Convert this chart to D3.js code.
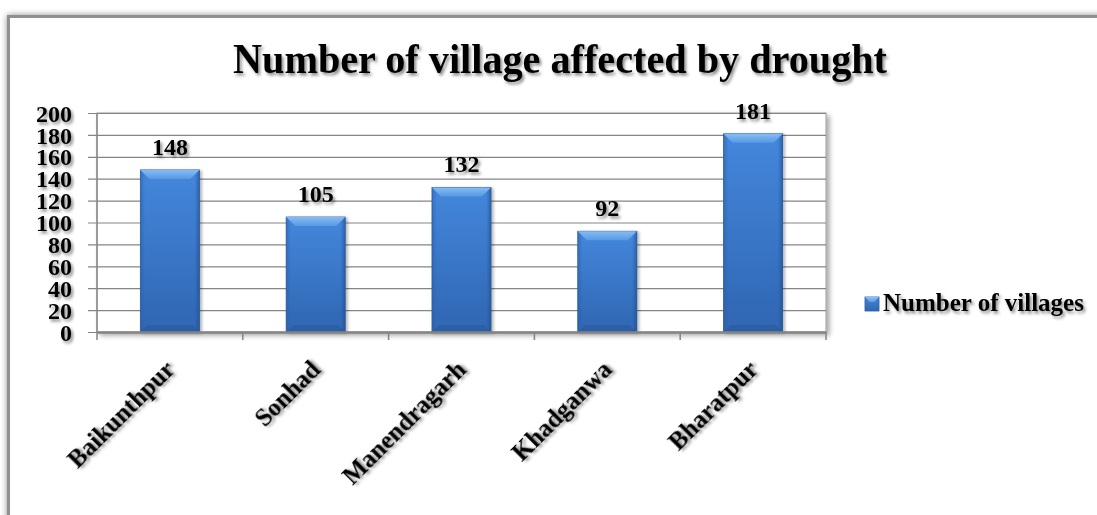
<!DOCTYPE html>
<html>
<head>
<meta charset="utf-8">
<script src="https://cdn.jsdelivr.net/npm/d3@7"></script>
<style>
  html, body { margin: 0; padding: 0; background: #ffffff; }
  svg { display: block; }
  text { font-family: "Liberation Serif", "Times New Roman", serif; font-weight: bold; fill: #000; }
</style>
</head>
<body>
<svg id="chart" width="1097" height="515"></svg>
<script>
const categories = ["Baikunthpur", "Sonhad", "Manendragarh", "Khadganwa", "Bharatpur"];
const values = [148, 105, 132, 92, 181];
const yTicks = [0, 20, 40, 60, 80, 100, 120, 140, 160, 180, 200];
const title = "Number of village affected by drought";
const seriesName = "Number of villages";

const svg = d3.select("#chart");
const W = 1097, H = 515;
const plot = { left: 97, right: 826, top: 113, bottom: 332 };

const defs = svg.append("defs");
const ts = defs.append("filter").attr("id", "tshadow").attr("x", "-10%").attr("y", "-20%").attr("width", "130%").attr("height", "160%");
ts.append("feDropShadow").attr("dx", 2).attr("dy", 2.5).attr("stdDeviation", 1.6).attr("flood-color", "#000").attr("flood-opacity", 0.45);
const fs = defs.append("filter").attr("id", "fshadow").attr("x", "-5%").attr("y", "-5%").attr("width", "110%").attr("height", "110%");
fs.append("feDropShadow").attr("dx", 0).attr("dy", 0).attr("stdDeviation", 3).attr("flood-color", "#000").attr("flood-opacity", 0.45);
const ps = defs.append("filter").attr("id", "pshadow").attr("x", "-5%").attr("y", "-5%").attr("width", "110%").attr("height", "115%");
ps.append("feDropShadow").attr("dx", 3).attr("dy", 3).attr("stdDeviation", 2.5).attr("flood-color", "#000").attr("flood-opacity", 0.35);
const bs = defs.append("filter").attr("id", "bshadow").attr("x", "-20%").attr("y", "-5%").attr("width", "140%").attr("height", "110%");
bs.append("feDropShadow").attr("dx", 2).attr("dy", 1).attr("stdDeviation", 1.5).attr("flood-color", "#000").attr("flood-opacity", 0.3);

const gBody = defs.append("linearGradient").attr("id", "gBody").attr("x1", 0).attr("y1", 0).attr("x2", 0).attr("y2", 1);
gBody.append("stop").attr("offset", "0%").attr("stop-color", "#4487dc");
gBody.append("stop").attr("offset", "100%").attr("stop-color", "#2f66b2");
const gSide = defs.append("linearGradient").attr("id", "gSide").attr("x1", 0).attr("y1", 0).attr("x2", 1).attr("y2", 0);
gSide.append("stop").attr("offset", "0%").attr("stop-color", "#2a5ea8").attr("stop-opacity", 0.55);
gSide.append("stop").attr("offset", "8%").attr("stop-color", "#2a5ea8").attr("stop-opacity", 0);
gSide.append("stop").attr("offset", "92%").attr("stop-color", "#1f4c8c").attr("stop-opacity", 0);
gSide.append("stop").attr("offset", "100%").attr("stop-color", "#1f4c8c").attr("stop-opacity", 0.6);
const gTop = defs.append("linearGradient").attr("id", "gTop").attr("x1", 0).attr("y1", 0).attr("x2", 0).attr("y2", 1);
gTop.append("stop").attr("offset", "0%").attr("stop-color", "#8cc2f5");
gTop.append("stop").attr("offset", "100%").attr("stop-color", "#5a9be6");

// outer frame
svg.append("rect").attr("x", 0).attr("y", 0).attr("width", W).attr("height", H).attr("fill", "#ffffff");
svg.append("rect").attr("x", 8.5).attr("y", 16.5).attr("width", 1200).attr("height", 700)
  .attr("fill", "#ffffff").attr("stroke", "#8f8f8f").attr("stroke-width", 3).attr("filter", "url(#fshadow)");

// scales
const x = d3.scaleBand().domain(categories).range([plot.left, plot.right]).paddingInner(0.595).paddingOuter(0.2975);
const y = d3.scaleLinear().domain([0, 200]).range([plot.bottom, plot.top]);

// plot area
svg.append("rect").attr("x", plot.left).attr("y", plot.top).attr("width", plot.right - plot.left).attr("height", plot.bottom - plot.top)
  .attr("fill", "#ffffff").attr("stroke", "#9a9a9a").attr("stroke-width", 1).attr("filter", "url(#pshadow)");

// gridlines + y axis
const yAxis = d3.axisLeft(y).tickValues(yTicks).tickSize(-(plot.right - plot.left) - 9).tickPadding(0).tickFormat(d3.format("d"));
const gy = svg.append("g").attr("transform", `translate(${plot.left + 0},0)`);
gy.call(yAxis);
gy.select(".domain").remove();
gy.selectAll(".tick line").attr("stroke", "#858585").attr("stroke-width", 1.2).attr("x1", -9).attr("x2", plot.right - plot.left);
gy.selectAll(".tick text").attr("x", -25).attr("dy", "0.34em").style("font-size", "24px")
  .style("font-family", "'Liberation Serif', 'Times New Roman', serif").style("font-weight", "bold")
  .attr("fill", "#000").attr("filter", "url(#tshadow)");
svg.append("line").attr("x1", plot.left).attr("x2", plot.left).attr("y1", plot.top).attr("y2", plot.bottom).attr("stroke", "#8a8a8a").attr("stroke-width", 1.5);

// bars
const bars = svg.append("g").selectAll("g.bar").data(values).join("g").attr("class", "bar");
bars.append("rect")
  .attr("x", (d, i) => x(categories[i])).attr("y", d => y(d))
  .attr("width", x.bandwidth()).attr("height", d => y(0) - y(d))
  .attr("fill", "url(#gBody)").attr("stroke", "#2c5c9e").attr("stroke-width", 0.8).attr("filter", "url(#bshadow)");
bars.append("rect")
  .attr("x", (d, i) => x(categories[i])).attr("y", d => y(d))
  .attr("width", x.bandwidth()).attr("height", d => y(0) - y(d))
  .attr("fill", "url(#gSide)");
bars.append("path")
  .attr("d", (d, i) => {
    const x0 = x(categories[i]), x1 = x0 + x.bandwidth(), t = y(d), b = 9;
    return `M${x0},${t} L${x1},${t} L${x1 - b},${t + b} L${x0 + b},${t + b} Z`;
  })
  .attr("fill", "url(#gTop)").attr("opacity", 0.9);
bars.append("path")
  .attr("d", (d, i) => {
    const x0 = x(categories[i]), x1 = x0 + x.bandwidth(), b = 7, bot = y(0);
    return `M${x0},${bot} L${x1},${bot} L${x1 - b},${bot - b} L${x0 + b},${bot - b} Z`;
  })
  .attr("fill", "#244f8e").attr("opacity", 0.35);

// x axis
const xAxis = d3.axisBottom(x).tickSize(0).tickFormat("");
const gx = svg.append("g").attr("transform", `translate(0,${plot.bottom})`);
gx.call(xAxis);
gx.select(".domain").attr("stroke", "#858585").attr("stroke-width", 2.5);
const bounds = categories.map(c => x(c) - x.step() * x.paddingInner() / 2).concat([plot.right]);
gx.selectAll("line.bt").data(bounds).join("line").attr("class", "bt")
  .attr("x1", d => d).attr("x2", d => d).attr("y1", 0).attr("y2", 8)
  .attr("stroke", "#858585").attr("stroke-width", 1.5);

svg.append("g").selectAll("text").data(categories).join("text")
  .attr("transform", d => `translate(${x(d) + x.bandwidth() / 2 + 6},${371}) rotate(-45)`)
  .attr("text-anchor", "end").style("font-size", "25px")
  .attr("filter", "url(#tshadow)").text(d => d);

// value labels
svg.append("g").selectAll("text").data(values).join("text")
  .attr("x", (d, i) => x(categories[i]) + x.bandwidth() / 2)
  .attr("y", d => y(d) - 15)
  .attr("text-anchor", "middle").style("font-size", "24px")
  .attr("filter", "url(#tshadow)").text(d => d);

// title
svg.append("text").attr("x", 560).attr("y", 73).attr("text-anchor", "middle")
  .style("font-size", "42px").attr("textLength", 654).attr("lengthAdjust", "spacingAndGlyphs")
  .attr("filter", "url(#tshadow)").text(title);

// legend
const lg = svg.append("g").attr("transform", "translate(865,297)");
lg.append("rect").attr("width", 14).attr("height", 14).attr("fill", "url(#gBody)").attr("stroke", "#2c5c9e").attr("stroke-width", 0.8);
lg.append("path").attr("d", "M0,0 L14,0 L9,5 L5,5 Z").attr("fill", "url(#gTop)");
lg.append("text").attr("x", 18).attr("y", 14).style("font-size", "25px").attr("filter", "url(#tshadow)").text(seriesName);
</script>
</body>
</html>
